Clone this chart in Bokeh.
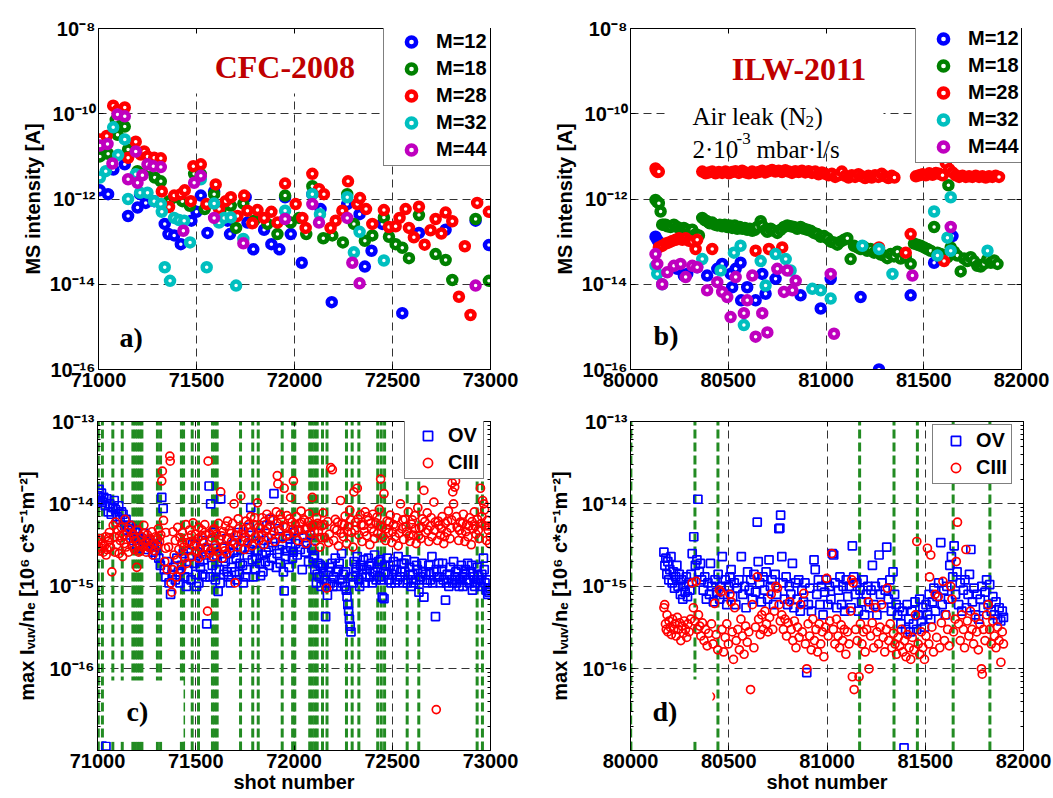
import math
from bokeh.plotting import figure
from bokeh.models import FixedTicker, Label, LinearAxis, LogAxis, CustomJSTickFormatter
from bokeh.layouts import column, row
from bokeh.embed import file_html
from bokeh.resources import INLINE

SANS = "Liberation Sans"
SERIF = "Liberation Serif"

# ---------------------------------------------------------------- data
a_x_ticks = [71000, 71500, 72000, 72500, 73000]
b_x_ticks = [80000, 80500, 81000, 81500, 82000]
ms_y_ticks = [1e-16, 1e-14, 1e-12, 1e-10, 1e-8]
vuv_y_ticks = [1e-16, 1e-15, 1e-14, 1e-13]
mass_labels = ["M=12", "M=18", "M=28", "M=32", "M=44"]
line_labels = ["OV", "CIII"]
ms_title = "MS intensity [A]"
vuv_title = "max I\u1d65\u1d64\u1d65/n\u2091 [10\u2076 c*s\u207b\u00b9m\u207b\u00b2]"
shot_title = "shot number"

# panel a (CFC-2008): (shot, MS intensity [A])
a_m12 = [(71007,1.6e-12),(71049,1.3e-12),(71076,4.9e-12),(71134,6.5e-12),(71151,4.0e-13),(71199,6.3e-13),
         (71212,1.3e-12),(71241,8.1e-13),(71284,8.9e-13),(71338,2.6e-13),(71357,1.5e-13),(71386,1.4e-13),
         (71420,8.7e-14),(71474,3.1e-13),(71500,5.0e-13),(71522,1.2e-12),(71556,1.6e-13),(71590,1.5e-12),
         (71658,3.1e-13),(71671,1.5e-13),(71751,1.1e-12),(71760,2.8e-13),(71790,6.6e-14),(71845,1.9e-13),
         (71882,8.7e-14),(71923,6.6e-14),(71952,1.1e-12),(71981,1.5e-13),(72037,3.2e-14),(72091,1.3e-12),
         (72133,5.8e-13),(72190,3.8e-15),(72269,7.6e-13),(72332,4.4e-13),(72359,2.6e-14),(72393,6.1e-14),
         (72448,2.6e-13),(72550,2.1e-15),(72635,1.6e-13),(72771,1.9e-13),(72924,3.1e-13),(72992,8.3e-14)]
a_m18 = [(71007,1.0e-11),(71049,1.15e-11),(71088,7.2e-11),(71097,3.2e-11),(71134,5.0e-11),(71151,1.45e-11),
         (71199,4.5e-12),(71224,3.8e-12),(71258,4.9e-12),(71287,3.2e-12),(71318,2.6e-12),(71360,8.9e-13),
         (71386,1.1e-12),(71428,8.9e-13),(71466,6.9e-13),(71488,3.9e-12),(71522,3.8e-12),(71542,5.8e-13),
         (71590,1.3e-12),(71624,5.8e-13),(71675,6.9e-13),(71702,2.1e-13),(71739,7.8e-13),(71794,3.1e-13),
         (71862,2.6e-13),(71913,1.5e-13),(71952,1.2e-12),(71981,2.8e-13),(72023,3.6e-13),(72060,1.5e-13),
         (72091,2.0e-12),(72147,1.2e-13),(72193,1.4e-13),(72247,9.6e-14),(72269,1.3e-12),(72303,2.6e-13),
         (72359,1.05e-13),(72397,1.4e-13),(72456,3.7e-13),(72482,1.3e-13),(72516,8.7e-14),(72550,7.2e-14),
         (72584,4.1e-14),(72635,4.2e-13),(72720,5.1e-14),(72771,3.7e-14),(72805,1.26e-14),(72924,3.4e-13),
         (72992,1.2e-14)]
a_m28 = [(71007,2.5e-11),(71042,3.0e-11),(71075,1.55e-10),(71097,1.2e-10),(71134,1.4e-10),(71151,9.3e-12),
         (71190,2.2e-11),(71216,1.1e-11),(71233,1.3e-11),(71250,1.0e-11),(71284,9.3e-12),(71318,9.0e-12),
         (71323,1.5e-12),(71360,6.5e-13),(71386,1.2e-12),(71420,1.3e-12),(71440,1.6e-12),(71471,8.9e-13),
         (71484,5.9e-12),(71522,6.5e-12),(71551,7.6e-13),(71598,2.2e-12),(71615,5.8e-13),(71649,8.9e-13),
         (71675,1.1e-12),(71709,4.0e-13),(71743,1.2e-12),(71760,5.3e-13),(71785,2.7e-13),(71811,5.5e-13),
         (71845,3.6e-13),(71882,5.0e-13),(71913,2.8e-13),(71952,2.3e-12),(72006,7.6e-13),(72040,3.6e-13),
         (72057,2.1e-13),(72091,3.9e-12),(72125,1.7e-12),(72150,1.3e-12),(72184,2.1e-13),(72210,3.1e-13),
         (72244,5.3e-13),(72273,2.6e-12),(72320,7.6e-13),(72334,1.05e-12),(72365,5.8e-13),(72397,2.6e-13),
         (72456,5.5e-13),(72482,2.2e-13),(72516,2.3e-13),(72536,3.6e-13),(72567,5.8e-13),(72584,2.1e-13),
         (72609,1.26e-13),(72635,6.6e-13),(72664,8.5e-14),(72694,1.85e-13),(72720,3.4e-13),(72749,1.55e-13),
         (72771,4.8e-13),(72805,3.0e-13),(72839,5.1e-15),(72869,7.8e-14),(72898,1.9e-15),(72932,8.1e-13),
         (72992,5.0e-13)]
a_m32 = [(71007,3.2e-12),(71037,4.5e-12),(71075,4.8e-11),(71100,1.07e-11),(71134,2.5e-11),(71151,1.0e-12),
         (71190,3.8e-12),(71212,1.4e-12),(71250,1.4e-12),(71284,8.9e-13),(71318,7.6e-13),(71323,5.0e-13),
         (71338,2.5e-14),(71365,1.2e-14),(71386,3.6e-13),(71411,3.2e-13),(71437,3.1e-13),(71467,9.6e-14),
         (71522,2.9e-12),(71552,2.5e-14),(71590,7.8e-13),(71615,2.8e-13),(71641,3.6e-13),(71675,3.7e-13),
         (71702,9.3e-15),(71739,1.15e-13),(71952,5.3e-13),(72091,1.3e-12),(72130,4.4e-13),(72269,1.1e-12),
         (72332,1.7e-13),(72303,5.6e-14),(72456,3.6e-14)]
a_m44 = [(71007,1.8e-11),(71046,1.95e-11),(71071,6.8e-12),(71097,9.6e-11),(71134,8.7e-11),(71151,2.9e-12),
         (71190,1.3e-11),(71199,2.4e-12),(71224,3.6e-12),(71250,6.5e-12),(71280,5.9e-12),(71318,5.6e-12),
         (71433,1.8e-13),(71488,2.4e-12),(71522,3.5e-12),(71590,3.6e-13),(71739,9.1e-14),(71952,3.4e-13),
         (72091,7.6e-13),(72125,2.8e-13),(72269,3.6e-13),(72295,3.2e-14),(72332,1.05e-14),(72924,9.3e-15)]

# panel b (ILW-2011)
b_m12 = [(80128,1.3e-13),(80137,1.1e-13),(80145,9.6e-14),(80154,8.0e-14),(80239,2.3e-14),(80273,1.6e-14),
         (80290,1.75e-14),(80341,2.5e-14),(80392,1.6e-14),(80444,2.3e-14),(80469,3.0e-14),(80512,1.75e-14),
         (80520,8.5e-15),(80538,2.3e-14),(80563,3.2e-14),(80566,4.2e-15),(80597,8.5e-15),(80640,4.2e-15),
         (80674,1.75e-14),(80691,6.0e-15),(80742,1.34e-14),(80870,5.5e-15),(80973,2.7e-15),(81024,1.34e-14),
         (81177,5.0e-15),(81271,1.0e-16),(81433,5.5e-15),(81553,3.2e-14),(81647,1.35e-13)]
b_m18 = [(80128,9.5e-13),(80137,8.5e-13),(80145,8.0e-13),(80154,5.1e-13),(80162,2.5e-13),(80171,2.5e-13),
         (80180,2.5e-13),(80188,2.3e-13),(80205,2.2e-13),(80222,2.5e-13),(80239,2.2e-13),(80256,2.0e-13),
         (80273,2.1e-13),(80290,1.9e-13),(80307,1.7e-13),(80316,1.9e-13),(80333,1.5e-13),(80350,1.4e-13),
         (80367,3.6e-13),(80380,3.2e-13),(80392,3.0e-13),(80405,2.7e-13),(80418,2.8e-13),(80431,2.5e-13),
         (80444,2.4e-13),(80457,2.5e-13),(80469,2.3e-13),(80482,2.5e-13),(80495,2.2e-13),(80508,2.4e-13),
         (80520,2.1e-13),(80533,2.4e-13),(80546,2.0e-13),(80559,2.2e-13),(80572,2.0e-13),(80585,2.1e-13),
         (80597,1.9e-13),(80610,2.0e-13),(80623,1.8e-13),(80636,1.9e-13),(80648,2.2e-13),(80666,3.0e-13),
         (80674,2.4e-13),(80691,1.9e-13),(80700,1.7e-13),(80717,2.0e-13),(80734,1.8e-13),(80751,1.6e-13),
         (80768,1.9e-13),(80785,2.2e-13),(80802,2.4e-13),(80819,2.3e-13),(80836,2.2e-13),(80853,2.0e-13),
         (80870,2.2e-13),(80887,2.0e-13),(80904,1.9e-13),(80921,1.8e-13),(80938,1.6e-13),(80955,1.5e-13),
         (80973,1.3e-13),(80990,1.35e-13),(81007,1.2e-13),(81024,1.0e-13),(81041,9.5e-14),(81058,8.5e-14),
         (81075,1.0e-13),(81092,1.1e-13),(81109,1.2e-13),(81126,3.9e-14),(81143,8.0e-14),(81160,7.3e-14),
         (81177,6.7e-14),(81194,7.5e-14),(81211,6.1e-14),(81228,6.7e-14),(81246,5.5e-14),(81263,6.1e-14),
         (81280,5.0e-14),(81297,4.7e-14),(81314,4.1e-14),(81331,5.1e-14),(81348,4.5e-14),(81365,5.8e-14),
         (81382,4.0e-14),(81408,4.3e-14),(81433,3.0e-14),(81450,9.0e-14),(81467,8.5e-14),(81484,8.0e-14),
         (81501,7.3e-14),(81518,6.7e-14),(81535,6.1e-14),(81553,2.2e-13),(81570,5.5e-14),(81587,5.1e-14),
         (81604,4.7e-14),(81621,4.3e-14),(81626,2.1e-12),(81638,7.3e-14),(81655,5.8e-14),(81672,4.7e-14),
         (81689,2.0e-14),(81706,4.0e-14),(81723,3.5e-14),(81740,4.3e-14),(81757,3.5e-14),(81774,2.7e-14),
         (81791,2.6e-14),(81808,3.0e-14),(81826,3.9e-14),(81843,3.2e-14),(81860,3.6e-14),(81877,3.0e-14)]
b_m28 = [(80128,5.2e-12),(80133,4.6e-12),(80140,4.3e-12),(80145,4.4e-12),
         (80145,7.3e-14),(80162,8.0e-14),(80180,9.0e-14),(80197,9.6e-14),(80214,1.04e-13),(80231,1.1e-13),
         (80248,1.2e-13),(80265,1.1e-13),(80282,1.2e-13),(80299,1.05e-13),(80316,1.0e-13),(80333,6.7e-14),
         (80341,1.1e-13),(80418,6.7e-14),(80640,6.1e-14),(80708,6.7e-14),(80776,7.3e-14),(81271,7.3e-14),
         (81408,5.5e-14),(81433,1.5e-13),(81604,3.5e-14),
         (80367,4.4e-12),(80384,4.0e-12),(80401,4.2e-12),(80418,4.4e-12),(80435,4.0e-12),(80452,4.3e-12),
         (80469,4.1e-12),(80486,4.4e-12),(80503,4.0e-12),(80520,4.3e-12),(80537,4.5e-12),(80554,4.1e-12),
         (80571,4.6e-12),(80588,4.2e-12),(80605,4.0e-12),(80622,4.4e-12),(80639,4.1e-12),(80656,4.3e-12),
         (80673,4.6e-12),(80690,4.2e-12),(80707,4.5e-12),(80724,4.8e-12),(80741,4.4e-12),(80758,4.6e-12),
         (80775,4.3e-12),(80792,4.7e-12),(80809,4.4e-12),(80826,4.1e-12),(80843,4.5e-12),(80860,4.3e-12),
         (80877,4.6e-12),(80894,4.2e-12),(80911,4.5e-12),(80928,4.1e-12),(80945,4.4e-12),(80962,3.8e-12),
         (80979,4.2e-12),(80996,3.9e-12),(81013,3.6e-12),(81030,3.9e-12),(81047,3.3e-12),(81064,3.6e-12),
         (81081,4.4e-12),(81098,3.5e-12),(81115,3.2e-12),(81132,3.6e-12),(81149,3.3e-12),(81166,3.8e-12),
         (81183,3.4e-12),(81200,3.1e-12),(81217,3.5e-12),(81234,3.2e-12),(81251,3.6e-12),(81268,3.3e-12),
         (81285,3.9e-12),(81302,3.4e-12),(81319,3.1e-12),(81336,3.5e-12),(81350,3.2e-12),(81460,3.4e-12),
         (81477,3.6e-12),(81494,3.8e-12),(81511,3.6e-12),(81528,4.0e-12),(81545,3.7e-12),(81562,4.1e-12),
         (81579,3.9e-12),(81596,3.6e-12),(81613,7.0e-12),(81630,5.0e-12),(81647,4.2e-12),(81664,3.6e-12),
         (81681,3.3e-12),(81698,3.5e-12),(81715,3.3e-12),(81732,3.4e-12),(81749,3.3e-12),(81766,3.5e-12),
         (81783,3.3e-12),(81800,3.4e-12),(81817,3.2e-12),(81834,3.4e-12),(81851,3.3e-12),(81868,3.5e-12),
         (81885,3.3e-12)]
b_m32 = [(80128,2.7e-14),(80137,1.75e-14),(80162,1.0e-14),(80367,3.9e-14),(80461,2.1e-14),(80529,5.5e-14),
         (80563,8.0e-14),(80580,1.1e-15),(80666,3.5e-14),(80691,9.3e-15),(80742,5.1e-14),(80794,3.9e-14),
         (80819,2.1e-14),(80930,7.8e-15),(80973,7.2e-15),(81024,4.6e-15),(81186,8.0e-14),(81271,6.7e-14),
         (81340,1.75e-14),(81553,5.1e-13),(81570,4.7e-14),(81621,1.24e-13),(81638,6.1e-14),(81638,1.1e-12),
         (81826,6.1e-14)]
b_m44 = [(80128,5.1e-14),(80137,3.0e-14),(80162,1.0e-14),(80188,1.9e-14),(80222,2.7e-14),(80256,3.0e-14),
         (80282,1.47e-14),(80316,2.7e-14),(80341,2.5e-14),(80392,7.2e-15),(80444,1.12e-14),(80469,6.6e-15),
         (80495,5.0e-15),(80512,1.7e-15),(80538,1.47e-14),(80580,2.1e-15),(80597,4.2e-15),(80623,1.6e-14),
         (80640,5.9e-16),(80674,2.1e-15),(80700,7.4e-16),(80751,2.3e-14),(80785,6.6e-15),(80802,2.1e-14),
         (80828,7.2e-15),(80845,1.2e-14),(81024,1.75e-14),(81041,6.9e-16),(81442,1.6e-14),(81638,2.2e-13)]

# panel c (CFC-2008): (shot, max I_VUV/n_e in units of 1e-15)
c_ov = [(71002,12.5),(71008,15),(71014,11),(71020,13.5),(71026,10.5),(71032,12),(71040,9.5),(71048,11.5),
        (71055,8),(71062,10),(71070,7.5),(71078,9),(71085,11),(71092,8.5),(71100,7),(71108,9.5),(71115,6.5),
        (71122,8),(71130,7.5),(71138,5.5),(71145,6.5),(71152,4.8),(71160,5.5),(71168,4.2),(71176,5),(71184,3.6),
        (71192,4.5),(71200,3.2),(71208,4),(71216,2.9),(71224,3.8),(71232,3.1),(71240,4.4),(71248,3.4),(71256,2.8),
        (71264,3.6),(71272,3.0),(71280,2.6),(71288,3.3),(71296,2.4),(71304,3.1),(71312,2.2),(71320,1.8),(71327,12),
        (71334,8.8),(71340,1.6),(71348,1.3),(71356,2),(71364,1.1),(71372,0.8),(71380,1.4),(71388,1.7),(71396,1.2),
        (71404,2.2),(71412,1.5),(71420,1.1),(71428,1.8),(71436,2.5),(71444,1.3),(71452,1.0),(71460,1.6),(71468,2.3),
        (71476,1.2),(71484,3.2),(71492,1.9),(71500,1.4),(71508,2.6),(71516,1.1),(71524,1.7),(71532,3.6),(71540,2.1),
        (71548,1.3),(71556,0.35),(71562,2.8),(71568,16.5),(71576,10),(71584,1.8),(71592,4.5),(71600,1.2),(71607,2.4),
        (71614,0.87),(71620,1.6),(71627,11.5),(71634,2.9),(71642,1.4),(71650,2.0),(71658,3.8),(71666,1.3),(71674,2.5),
        (71682,1.7),(71690,3.2),(71698,1.5),(71706,2.2),(71714,4.5),(71722,1.4),(71730,2.8),(71738,1.8),(71746,3.6),
        (71754,1.3),(71762,2.4),(71770,5.2),(71780,9),(71788,2.1),(71796,3.3),(71804,1.6),(71812,2.7),(71820,4.4),
        (71830,1.35),(71838,2.4),(71846,3.6),(71854,2.0),(71862,5.5),(71870,3.0),(71878,6.5),(71886,2.2),(71898,13.3),
        (71906,3.8),(71914,2.5),(71922,5),(71930,1.9),(71940,3.2),(71950,0.88),(71958,2.3),(71966,4.1),(71975,1.7),
        (71984,3.0),(71992,2.2),(72000,4.5),(72008,3.3),(72016,2.4),(72024,4.8),(72032,2.8),(72042,1.6),(72050,3.9),
        (72058,2.6),(72066,3.4),(72074,2.0),(72082,4.2),(72090,2.9),(72098,2.2),(72106,1.6),(72114,1.1),(72122,1.9),
        (72130,1.3),(72138,1.0),(72146,1.7),(72154,1.2),(72161,0.43),(72170,0.78),(72178,1.5),(72186,1.1),(72194,1.9),
        (72202,1.3),(72210,2.2),(72218,1.0),(72226,1.6),(72234,1.2),(72242,2.5),(72250,1.4),(72258,1.0),(72266,0.9),
        (72270,0.75),(72274,0.6),(72278,0.5),(72282,0.4),(72286,0.33),(72290,0.28),(72298,1.3),(72306,2.0),(72314,1.5),
        (72322,2.3),(72330,1.2),(72338,1.8),(72346,1.4),(72354,2.1),(72362,1.1),(72370,1.6),(72378,2.2),(72386,1.3),
        (72394,1.9),(72402,1.5),(72410,2.4),(72418,1.2),(72426,1.7),(72434,1.3),(72441,2.1),(72449,0.74),(72458,0.71),
        (72466,1.5),(72474,2.2),(72482,1.2),(72490,1.8),(72498,1.4),(72506,2.0),(72514,1.1),(72522,1.6),(72530,2.3),
        (72540,1.3),(72548,1.9),(72556,1.1),(72564,1.5),(72572,2.1),(72580,1.2),(72588,1.7),(72596,1.0),(72604,1.4),
        (72612,2.0),(72620,1.2),(72628,1.6),(72636,0.85),(72644,1.3),(72652,1.9),(72661,0.74),(72670,1.4),(72678,1.1),
        (72686,1.8),(72694,1.2),(72702,2.3),(72712,1.5),(72720,0.43),(72728,1.3),(72736,1.9),(72744,1.1),(72752,1.6),
        (72760,1.2),(72771,0.68),(72780,1.4),(72788,1.0),(72796,1.7),(72804,1.2),(72812,2.0),(72820,1.3),(72828,1.1),
        (72836,1.6),(72844,1.2),(72852,1.8),(72860,1.0),(72868,1.4),(72876,1.2),(72884,1.9),(72892,1.1),(72900,1.5),
        (72908,0.9),(72916,1.3),(72924,1.1),(72932,1.7),(72940,1.2),(72948,1.0),(72956,1.4),(72964,2.2),(72972,1.1),
        (72980,0.9),(72986,0.8),(72992,0.85),(72998,0.95),(71043,0.0115),
        (71504,1.0),(71520,2.0),(71536,1.4),(71552,2.4),(71572,1.3),(71588,2.9),(71604,1.6),(71624,1.1),(71640,2.2),
        (71660,1.5),(71676,1.1),(71694,2.6),(71710,1.2),(71726,1.9),(71742,1.1),(71758,1.6),(71776,2.8),(71792,1.3),
        (71808,2.2),(71826,1.9),(71842,1.5),(71858,2.6),(71874,1.8),(71892,3.4),(71910,1.7),(71926,2.8),(71946,1.5),
        (71962,2.7),(71980,3.8),(71996,2.6),(72104,2.4),(72118,1.4),(72134,1.8),(72150,1.5),(72166,1.1),(72182,1.7),
        (72198,1.0),(72214,1.5),(72230,1.9),(72246,1.1),(72262,1.5),(72302,1.1),(72318,1.7),(72334,1.0),(72350,1.6),
        (72366,1.3),(72382,1.8),(72398,1.1),(72414,1.5),(72430,2.0),(72446,1.2),(72462,1.8),(72478,1.4),(72494,1.1),
        (72510,1.6),(72526,1.2),(72544,1.5),(72560,1.9),(72576,1.1),(72592,1.4),(72608,1.1),(72624,1.8),(72640,1.2),
        (72656,1.5),(72674,1.2),(72690,1.5),(72706,1.1),(72724,1.6),(72740,1.3),(72756,1.9),(72776,1.1),(72792,1.4),
        (72808,1.1),(72824,1.5),(72840,1.0),(72856,1.3),(72872,1.6),(72888,1.2),(72904,1.8),(72920,1.0),(72936,1.4),
        (72952,1.2),(72968,1.6),(72984,1.2)]
c_ciii = [(71002,3.5),(71006,3.0),(71010,2.7),(71015,3.8),(71020,2.9),(71025,3.3),(71030,2.6),(71036,3.1),
          (71042,4.0),(71048,2.8),(71054,3.5),(71060,4.5),(71066,3.0),(71073,1.5),(71080,5.5),(71086,4.0),
          (71092,6.0),(71098,3.2),(71104,4.8),(71110,2.5),(71116,3.6),(71122,5.2),(71128,2.3),(71134,4.2),
          (71140,6.5),(71146,3.0),(71152,4.5),(71158,2.6),(71164,3.8),(71170,5.5),(71176,3.1),(71182,4.3),
          (71188,2.8),(71194,3.6),(71200,1.7),(71206,4.8),(71212,3.2),(71218,2.7),(71224,4.0),(71230,3.0),
          (71236,5.5),(71242,3.4),(71248,2.6),(71254,4.2),(71260,3.0),(71266,3.8),(71272,2.9),(71278,4.6),
          (71284,3.3),(71290,2.7),(71296,4.0),(71302,3.1),(71310,5.0),(71316,3.5),(71322,4.2),(71327,19),
          (71330,25),(71336,6.3),(71342,2.0),(71348,4.5),(71354,1.6),(71362,3.0),(71368,38),(71370,33),
          (71374,1.1),(71378,0.85),(71384,4.6),(71390,2.4),(71396,3.6),(71402,1.3),(71408,5.2),(71414,2.8),
          (71420,3.9),(71426,1.6),(71432,4.5),(71438,3.0),(71444,2.2),(71450,5.6),(71456,3.4),(71462,2.7),
          (71468,4.8),(71474,3.5),(71480,2.3),(71486,5.9),(71492,3.1),(71498,4.3),(71504,2.6),(71510,3.8),
          (71516,5.2),(71522,2.9),(71528,4.1),(71534,2.4),(71540,3.4),(71546,5.6),(71552,3.0),(71560,0.5),
          (71563,33),(71570,4.4),(71576,2.7),(71582,3.9),(71588,2.3),(71594,5.0),(71600,3.2),(71606,4.3),
          (71612,2.6),(71620,3.7),(71627,14),(71634,2.2),(71640,4.6),(71646,3.0),(71652,5.4),(71658,2.5),
          (71664,3.8),(71670,4.8),(71676,2.9),(71682,3.5),(71688,5.8),(71695,10),(71700,1.1),(71706,4.2),
          (71712,3.0),(71720,5.0),(71729,12.5),(71736,3.6),(71742,4.9),(71748,2.8),(71756,6.2),(71764,3.4),
          (71772,4.5),(71780,7.0),(71788,3.1),(71796,5.6),(71804,4.0),(71814,10.3),(71822,3.6),(71830,5.0),
          (71838,6.8),(71846,3.2),(71854,4.7),(71862,7.5),(71870,3.9),(71878,5.5),(71886,4.2),(71894,6.3),
          (71902,3.5),(71910,8.0),(71915,22),(71918,17.5),(71926,4.8),(71934,6.5),(71942,3.8),(71950,15.5),
          (71956,5.2),(71964,7.2),(71972,4.3),(71983,12),(71990,6.0),(71997,19),(72004,4.5),(72012,7.0),
          (72020,3.6),(72028,5.8),(72036,8.2),(72044,4.1),(72052,6.4),(72060,3.3),(72068,5.1),(72076,7.6),
          (72084,4.4),(72093,12),(72100,5.6),(72108,3.5),(72116,6.8),(72124,4.6),(72132,3.0),(72140,5.4),
          (72148,7.8),(72156,3.9),(72166,0.95),(72172,6.1),(72180,4.3),(72187,27.6),(72195,26),(72202,3.6),
          (72210,6.5),(72218,4.8),(72226,3.1),(72237,11),(72244,5.7),(72252,4.0),(72260,7.1),(72268,3.3),
          (72276,5.3),(72284,8.4),(72292,4.5),(72300,3.0),(72305,14),(72314,6.0),(72322,15.5),(72330,4.2),
          (72338,7.4),(72346,3.5),(72354,5.5),(72362,8.0),(72370,4.1),(72378,6.3),(72386,3.2),(72394,5.0),
          (72402,7.5),(72410,3.8),(72418,5.9),(72426,4.4),(72434,8.6),(72441,20),(72450,5.2),(72458,13.3),
          (72466,3.6),(72474,6.2),(72482,4.5),(72490,7.3),(72498,3.4),(72506,5.6),(72514,4.0),(72522,6.8),
          (72530,3.1),(72542,10),(72550,5.0),(72558,3.7),(72566,6.5),(72574,4.6),(72582,8.0),(72590,3.5),
          (72598,5.7),(72606,4.2),(72614,7.2),(72622,3.3),(72630,9.0),(72638,5.1),(72646,3.8),(72654,6.6),
          (72661,14.6),(72670,4.5),(72678,7.8),(72686,3.5),(72694,5.4),(72702,4.0),(72712,10.5),(72718,6.0),
          (72724,0.032),(72730,3.6),(72738,5.5),(72746,4.2),(72754,7.0),(72762,3.3),(72770,5.8),(72778,4.5),
          (72786,8.2),(72794,3.8),(72802,6.4),(72805,18),(72808,14),(72812,10),(72818,16),(72822,19),
          (72830,5.2),(72838,3.6),(72846,6.0),(72854,4.4),(72862,7.5),(72870,3.5),(72878,5.6),(72886,4.0),
          (72894,6.8),(72902,3.2),(72910,5.0),(72918,8.0),(72926,4.3),(72934,6.5),(72942,3.8),(72949,15.5),
          (72956,7.0),(72960,11),(72966,10),(72972,5.4),(72980,3.6),(72988,4.8),(72995,3.3),(72999,4.0),
          (71044,2.4),(71058,3.9),(71088,2.6),(71112,4.1),(71136,3.3),(71160,5.0),(71186,3.9),(71210,2.6),
          (71234,4.4),(71258,3.6),(71282,2.4),(71306,3.7),(71346,2.9),(71382,1.6),(71406,2.1),(71430,3.4),
          (71454,1.9),(71478,4.2),(71502,3.3),(71514,2.2),(71532,4.8),(71550,4.2),(71568,2.5),(71586,4.8),
          (71604,2.9),(71616,5.8),(71632,4.1),(71648,2.7),(71662,6.2),(71680,4.4),(71698,3.3),(71716,6.6),
          (71732,4.3),(71752,3.9),(71768,5.6),(71784,4.6),(71800,6.8),(71818,5.2),(71834,4.2),(71850,6.1),
          (71866,5.0),(71882,6.8),(71898,4.6),(71914,5.8),(71930,7.4),(71946,5.4),(71962,4.1),(71978,6.6),
          (71994,4.9),(72008,5.6),(72024,4.8),(72040,6.0),(72056,4.9),(72072,6.0),(72088,5.3),(72104,4.6),
          (72120,5.8),(72136,3.9),(72152,5.6),(72176,3.4),(72206,5.0),(72222,6.0),(72240,4.4),(72256,5.6),
          (72272,4.6),(72288,6.4),(72310,4.8),(72326,6.6),(72342,5.6),(72358,4.6),(72374,7.0),(72390,5.8),
          (72406,4.6),(72422,6.9),(72438,5.4),(72454,4.0),(72470,5.0),(72486,6.0),(72502,4.6),(72518,5.3),
          (72534,4.4),(72554,6.4),(72570,5.3),(72586,4.1),(72602,6.4),(72618,5.0),(72634,4.1),(72650,5.2),
          (72666,6.1),(72682,4.8),(72698,6.8),(72716,4.8),(72734,6.2),(72750,5.0),(72766,4.0),(72782,6.2),
          (72798,5.1),(72826,7.0),(72842,4.8),(72858,5.8),(72874,4.6),(72890,5.4),(72906,6.1),(72922,5.4),
          (72938,4.8),(72954,5.8),(72970,8.5),(72984,6.3),(72992,5.4)]

# panel d (ILW-2011): (shot, max I_VUV/n_e in units of 1e-15)
d_ov = [(80170,2.6),(80175,1.8),(80180,2.2),(80185,1.4),(80190,2.0),(80195,1.2),(80200,1.6),(80206,2.3),
        (80212,1.1),(80218,1.5),(80224,0.95),(80230,1.3),(80236,1.8),(80242,1.0),(80248,1.4),(80254,0.8),
        (80260,1.2),(80266,0.7),(80272,1.0),(80278,0.85),(80284,1.3),(80290,0.75),(80296,1.1),(80302,0.9),
        (80308,1.4),(80314,2.5),(80322,4.0),(80330,1.8),(80338,2.1),(80343,11.4),(80350,1.5),(80356,1.9),
        (80362,1.2),(80370,0.9),(80378,1.3),(80386,0.7),(80394,1.1),(80402,0.8),(80407,1.9),(80414,1.0),
        (80422,0.65),(80430,1.2),(80438,0.85),(80446,1.4),(80454,0.7),(80462,1.0),(80467,2.3),(80474,0.8),
        (80482,1.2),(80490,0.6),(80498,1.0),(80506,1.3),(80512,1.6),(80520,0.75),(80528,1.1),(80536,0.6),
        (80544,0.95),(80552,1.2),(80564,2.3),(80572,0.8),(80580,1.0),(80588,0.55),(80596,1.5),(80604,0.9),
        (80612,1.2),(80620,0.7),(80628,1.4),(80636,0.85),(80645,6.0),(80650,2.0),(80658,1.1),(80666,0.65),
        (80674,1.3),(80682,0.9),(80690,1.5),(80698,0.7),(80705,2.1),(80712,1.0),(80720,1.2),(80728,0.6),
        (80736,1.4),(80744,0.8),(80755,5.0),(80760,5.1),(80764,7.3),(80770,2.3),(80776,1.1),(80784,0.7),
        (80792,1.3),(80800,0.6),(80808,1.0),(80816,0.8),(80824,1.9),(80832,0.55),(80840,1.1),(80848,0.7),
        (80856,1.2),(80864,0.5),(80872,0.9),(80880,0.65),(80888,1.1),(80897,0.09),(80905,0.6),(80913,0.95),
        (80921,0.5),(80934,2.1),(80940,1.6),(80948,0.8),(80956,1.2),(80964,0.6),(80972,1.0),(80980,0.45),
        (80988,0.85),(80996,1.2),(81004,0.6),(81012,1.0),(81020,0.7),(81027,2.5),(81034,2.4),(81042,1.1),
        (81050,0.55),(81058,0.9),(81066,1.3),(81074,0.6),(81082,1.0),(81090,0.5),(81098,1.2),(81106,0.75),
        (81114,1.0),(81122,0.55),(81129,3.1),(81136,1.3),(81144,0.8),(81152,1.1),(81160,0.5),(81168,0.9),
        (81176,0.65),(81184,1.2),(81192,0.45),(81200,0.8),(81208,1.0),(81216,0.55),(81224,0.9),(81231,1.8),
        (81238,0.6),(81246,1.0),(81254,0.45),(81265,2.4),(81272,0.8),(81280,1.1),(81288,0.55),(81296,0.9),
        (81304,3.0),(81312,0.7),(81320,1.2),(81328,0.5),(81336,1.5),(81344,0.8),(81352,0.6),(81360,0.45),
        (81368,0.55),(81376,0.35),(81384,0.5),(81392,0.011),(81400,0.3),(81408,0.6),(81416,0.4),(81424,0.28),
        (81432,0.5),(81440,0.35),(81448,0.65),(81456,0.3),(81464,0.45),(81472,0.7),(81480,0.38),(81488,0.55),
        (81496,0.32),(81504,0.6),(81512,0.45),(81520,0.8),(81528,0.4),(81536,0.65),(81544,0.95),(81552,0.5),
        (81560,0.75),(81568,1.1),(81579,3.4),(81586,0.6),(81594,0.9),(81602,0.45),(81610,1.0),(81618,0.7),
        (81625,1.8),(81633,2.3),(81640,1.3),(81647,3.1),(81654,0.8),(81662,1.5),(81670,0.6),(81678,1.1),
        (81686,0.5),(81694,0.9),(81702,1.2),(81710,0.55),(81718,0.8),(81725,1.4),(81732,2.8),(81740,0.65),
        (81748,0.95),(81756,0.45),(81764,0.8),(81772,0.4),(81780,0.7),(81788,1.0),(81796,0.55),(81804,0.85),
        (81812,1.2),(81820,0.6),(81828,1.05),(81836,0.5),(81844,0.75),(81852,0.45),(81860,0.65),(81868,0.4),
        (81876,0.55),(81884,0.38),(81892,0.5),(81898,0.42)]
d_ciii = [(80170,0.55),(80174,0.6),(80178,0.35),(80182,0.3),(80186,0.45),(80190,0.28),(80196,0.38),
          (80202,0.32),(80208,0.26),(80214,0.4),(80220,0.3),(80226,0.35),(80232,0.25),(80238,0.42),(80244,0.3),
          (80250,0.36),(80256,0.22),(80262,0.33),(80268,0.27),(80274,0.38),(80280,0.3),(80286,0.24),(80292,0.35),
          (80298,0.28),(80306,0.4),(80314,1.1),(80320,0.55),(80326,0.38),(80334,1.15),(80340,0.3),(80346,0.45),
          (80352,0.33),(80358,0.25),(80366,0.36),(80374,0.22),(80382,0.3),(80390,0.19),(80398,0.27),(80407,0.046),
          (80412,0.35),(80420,0.2),(80428,0.62),(80436,0.26),(80444,0.17),(80452,0.9),(80460,0.85),(80466,0.3),
          (80474,0.16),(80482,0.24),(80490,0.35),(80498,0.2),(80506,0.8),(80512,0.65),(80518,0.28),(80524,0.13),
          (80530,0.55),(80538,0.22),(80546,0.3),(80554,0.17),(80562,0.4),(80570,0.25),(80578,0.15),(80586,0.33),
          (80594,0.21),(80602,0.28),(80611,0.056),(80620,0.6),(80628,0.18),(80636,0.32),(80645,1.3),(80652,0.4),
          (80660,0.26),(80668,0.45),(80676,0.3),(80684,0.5),(80692,0.35),(80700,0.28),(80708,0.42),(80716,0.8),
          (80724,0.3),(80732,0.5),(80740,1.0),(80748,0.95),(80756,0.6),(80762,0.38),(80770,0.45),(80778,0.3),
          (80786,0.4),(80794,0.25),(80802,0.36),(80810,0.65),(80818,0.3),(80826,0.22),(80834,0.38),(80842,0.18),
          (80850,0.32),(80858,0.24),(80866,0.6),(80874,0.28),(80882,0.82),(80890,0.2),(80897,0.1),(80904,0.35),
          (80912,0.25),(80920,0.17),(80928,0.4),(80936,0.22),(80944,0.3),(80952,0.16),(80960,0.35),(80968,0.2),
          (80976,0.28),(80984,0.14),(80992,0.32),(80998,1.25),(81006,0.25),(81014,0.38),(81024,2.5),(81032,0.3),
          (81040,0.2),(81048,0.4),(81056,0.25),(81064,0.18),(81072,0.34),(81080,0.22),(81088,0.3),(81096,0.15),
          (81104,0.28),(81112,0.2),(81120,0.5),(81126,1.2),(81129,0.08),(81133,1.1),(81138,0.056),(81146,0.3),
          (81154,0.22),(81163,0.08),(81170,0.35),(81178,0.2),(81186,0.28),(81194,0.16),(81202,0.3),(81210,0.65),
          (81214,0.1),(81222,0.25),(81230,0.36),(81238,0.18),(81246,0.55),(81254,0.28),(81262,0.2),(81270,0.32),
          (81278,0.6),(81286,0.24),(81294,0.16),(81302,0.3),(81307,0.95),(81314,0.22),(81322,0.35),(81330,0.18),
          (81338,0.27),(81346,0.2),(81354,0.15),(81362,0.24),(81370,0.19),(81378,0.3),(81386,0.16),(81394,0.22),
          (81402,0.14),(81410,0.26),(81418,0.18),(81426,0.13),(81434,0.24),(81442,0.17),(81450,0.45),(81457,3.5),
          (81464,0.2),(81472,0.15),(81480,0.28),(81488,0.18),(81496,0.13),(81504,0.25),(81511,2.9),(81518,0.2),
          (81522,1.3),(81528,2.4),(81534,0.32),(81542,0.16),(81550,0.8),(81558,0.24),(81566,0.75),(81574,0.18),
          (81582,0.36),(81590,1.15),(81598,0.22),(81606,0.45),(81614,0.3),(81622,0.19),(81630,1.0),(81636,0.7),
          (81644,0.28),(81652,0.4),(81658,2.0),(81664,6.0),(81670,0.35),(81678,0.22),(81686,0.45),(81694,0.3),
          (81700,0.18),(81707,2.8),(81714,0.38),(81722,0.25),(81730,0.5),(81738,0.3),(81746,0.2),(81754,0.42),
          (81762,0.28),(81770,0.17),(81778,0.35),(81786,0.1),(81790,0.086),(81796,0.3),(81804,0.22),(81812,0.45),
          (81820,0.6),(81828,0.3),(81836,0.2),(81844,0.38),(81852,0.25),(81860,0.18),(81868,0.32),(81876,0.22),
          (81885,0.12),(81892,0.28),(81898,0.2)]

# shots marked by green dashed lines
c_marked_shots = [71004, 71025, 71078, 71126, 71180, 71192, 71204, 71216, 71226, 71305, 71321, 71427, 71438,
                  71482, 71514, 71585, 71597, 71609, 71728, 71790, 71818, 71940, 71993, 72004, 72080, 72093,
                  72106, 72118, 72145, 72168, 72267, 72296, 72330, 72426, 72444, 72461, 72576, 72635, 72932,
                  72959]
d_marked_shots = [80002, 80328, 80445, 81166, 81341, 81460, 81642, 81829]

VUV_UNIT = 1e-15

# ---------------------------------------------------------------- styling
MASS_COLORS = ["#0000FF", "#008000", "#FF0000", "#00BFBF", "#BF00BF"]
GREEN = "#228B22"
TITLE_RED = "#BF0000"

POW10_JS = r"""
const sup = {"-": "\u207b", "0": "\u2070", "1": "\u00b9", "2": "\u00b2", "3": "\u00b3", "4": "\u2074",
             "5": "\u2075", "6": "\u2076", "7": "\u2077", "8": "\u2078", "9": "\u2079"};
const e = Math.round(Math.log10(tick));
return "10" + String(e).split("").map((c) => sup[c]).join("");
"""


def style_axis(ax, show_labels):
    ax.axis_line_color = "black"
    ax.axis_line_width = 1
    ax.major_tick_line_color = "black"
    ax.major_tick_in = 5
    ax.major_tick_out = 0
    ax.minor_tick_line_color = "black"
    ax.minor_tick_in = 3
    ax.minor_tick_out = 0
    if show_labels:
        ax.major_label_text_font = SANS
        ax.major_label_text_font_style = "bold"
        ax.major_label_text_font_size = "20px"
        ax.major_label_text_color = "black"
        ax.major_label_standoff = 3
    else:
        ax.major_label_text_color = None
        ax.major_label_text_font_size = "0px"
        ax.major_label_standoff = 0


def title_style(ax, text, standoff):
    ax.axis_label = text
    ax.axis_label_text_font = SANS
    ax.axis_label_text_font_style = "bold"
    ax.axis_label_text_font_size = "20px"
    ax.axis_label_text_color = "black"
    ax.axis_label_standoff = standoff


def panel(width, height, xr, yr, borders, xticks, yticks, yminor):
    left, right, top, bottom = borders
    p = figure(width=width, height=height, x_range=xr, y_range=yr, y_axis_type="log",
               output_backend="svg", toolbar_location=None,
               min_border_left=left, min_border_right=right,
               min_border_top=top, min_border_bottom=bottom)
    p.background_fill_color = "white"
    p.border_fill_color = "white"
    p.outline_line_color = "black"
    p.outline_line_width = 1
    xt = FixedTicker(ticks=xticks, minor_ticks=[])
    yt = FixedTicker(ticks=yticks, minor_ticks=yminor)
    bottom_ax = p.below[0]
    left_ax = p.left[0]
    bottom_ax.ticker = xt
    left_ax.ticker = yt
    p.xgrid.ticker = xt
    p.ygrid.ticker = yt
    for g in (p.xgrid, p.ygrid):
        g.grid_line_color = "#333333"
        g.grid_line_dash = "8 5"
        g.grid_line_width = 1
    style_axis(bottom_ax, True)
    style_axis(left_ax, True)
    left_ax.formatter = CustomJSTickFormatter(code=POW10_JS)
    top_ax = LinearAxis(ticker=xt)
    style_axis(top_ax, False)
    p.add_layout(top_ax, "above")
    right_ax = LogAxis(ticker=yt)
    style_axis(right_ax, False)
    p.add_layout(right_ax, "right")
    return p, bottom_ax, left_ax


def style_legend(p, loc, glyph_w):
    lg = p.legend[0]
    lg.location = loc
    lg.label_text_font = SANS
    lg.label_text_font_style = "bold"
    lg.label_text_font_size = "20px"
    lg.label_text_color = "black"
    lg.border_line_color = "black"
    lg.border_line_width = 1.2
    lg.background_fill_color = "white"
    lg.background_fill_alpha = 1.0
    lg.padding = 4
    lg.spacing = 4
    lg.margin = 0
    lg.glyph_width = glyph_w
    lg.glyph_height = 23
    lg.label_height = 23
    lg.label_standoff = 2


def serif_label(p, x, y, text, size, color="black", bold=True, align="left", baseline="middle",
                x_off=0, y_off=0):
    p.add_layout(Label(x=x, y=y, x_offset=x_off, y_offset=y_off, text=text, text_align=align,
                       text_baseline=baseline, text_font=SERIF,
                       text_font_style="bold" if bold else "normal",
                       text_font_size=f"{size}px", text_color=color))


def ms_series(p, series):
    for (pts, lab, col) in zip(series, mass_labels, MASS_COLORS):
        p.scatter([q[0] for q in pts], [q[1] for q in pts], marker="circle", size=8, line_width=4.5,
                  line_color=col, fill_color="white", legend_label=lab)


def vuv_series(p, ov, ciii, marked, yr):
    p.segment(x0=marked, y0=[yr[0]] * len(marked), x1=marked, y1=[yr[1]] * len(marked),
              line_color=GREEN, line_width=3, line_dash="9 4")
    p.scatter([q[0] for q in ov], [q[1] * VUV_UNIT for q in ov], marker="square", size=8,
              line_width=1.7, line_color="#0000FF", fill_color=None, legend_label=line_labels[0])
    p.scatter([q[0] for q in ciii], [q[1] * VUV_UNIT for q in ciii], marker="circle", size=8,
              line_width=1.7, line_color="#FF0000", fill_color=None, legend_label=line_labels[1])


# ---------------------------------------------------------------- panel a
xa, ya = (71000, 73000), (1e-16, 1e-8)
pa, pa_x, pa_y = panel(528, 400, xa, ya, (98, 38, 27, 31), a_x_ticks, ms_y_ticks, [])
ms_series(pa, [a_m12, a_m18, a_m28, a_m32, a_m44])
pa.quad(left=[71200], right=[72450], bottom=[3.0e-10], top=[1e-8], fill_color="white", line_color=None)
style_legend(pa, (285, 203), 46)
title_style(pa_y, ms_title, 3)
serif_label(pa, 71951, 1.23e-9, "CFC-2008", 32, color=TITLE_RED, align="center")
serif_label(pa, 71107, 5.6e-16, "a)", 28)

# ---------------------------------------------------------------- panel b
xb, yb = (80000, 82000), (1e-16, 1e-8)
pb, pb_x, pb_y = panel(525, 400, xb, yb, (102, 32, 28, 27), b_x_ticks, ms_y_ticks, [])
ms_series(pb, [b_m12, b_m18, b_m28, b_m32, b_m44])
pb.quad(left=[80190], right=[81294], bottom=[1.48e-11], top=[1e-8], fill_color="white", line_color=None)
style_legend(pb, (285, 206), 46)
title_style(pb_y, ms_title, 3)
serif_label(pb, 80862, 1.15e-9, "ILW-2011", 32, color=TITLE_RED, align="center")
serif_label(pb, 80118, 6.4e-16, "b)", 28)
serif_label(pb, 80317, 8.6e-11, "Air leak (N", 25, bold=False, baseline="alphabetic")
serif_label(pb, 80317, 8.6e-11, "2", 17, bold=False, baseline="alphabetic", x_off=113, y_off=-5)
serif_label(pb, 80317, 8.6e-11, ")", 25, bold=False, baseline="alphabetic", x_off=122)
serif_label(pb, 80317, 1.48e-11, "2\u00b710", 25, bold=False, baseline="alphabetic")
serif_label(pb, 80317, 1.48e-11, "-3", 17, bold=False, baseline="alphabetic", x_off=44, y_off=11)
serif_label(pb, 80317, 1.48e-11, "mbar\u00b7l/s", 25, bold=False, baseline="alphabetic", x_off=64)

# ---------------------------------------------------------------- panel c
vuv_minor = [m * 10.0 ** k for k in (-17, -16, -15, -14) for m in range(2, 10)]
xc, yc_ = (71000, 73000), (1.02e-17, 1e-13)
pc, pc_x, pc_y = panel(528, 398, xc, yc_, (97, 38, 17, 48), a_x_ticks, vuv_y_ticks, vuv_minor)
vuv_series(pc, c_ov, c_ciii, c_marked_shots, yc_)
pc.quad(left=[71046], right=[71438], bottom=[1.3e-17], top=[7.2e-17], fill_color="white", line_color=None)
style_legend(pc, (307, 271), 37)
title_style(pc_y, vuv_title, 8)
title_style(pc_x, shot_title, 0)
serif_label(pc, 71148, 3.0e-17, "c)", 28)

# ---------------------------------------------------------------- panel d
xd, yd = (80000, 82000), (1.02e-17, 1e-13)
pd_, pd_x, pd_y = panel(525, 398, xd, yd, (102, 30, 21, 48), b_x_ticks, vuv_y_ticks, vuv_minor)
vuv_series(pd_, d_ov, d_ciii, d_marked_shots, yd)
pd_.quad(left=[80010], right=[80417], bottom=[1.3e-17], top=[7.4e-17], fill_color="white", line_color=None)
style_legend(pd_, (302, 266), 37)
title_style(pd_y, vuv_title, 8)
title_style(pd_x, shot_title, 0)
serif_label(pd_, 80112, 3.0e-17, "d)", 28)

layout = column(row(pa, pb), row(pc, pd_))
open("out.html", "w").write(file_html(layout, INLINE))
